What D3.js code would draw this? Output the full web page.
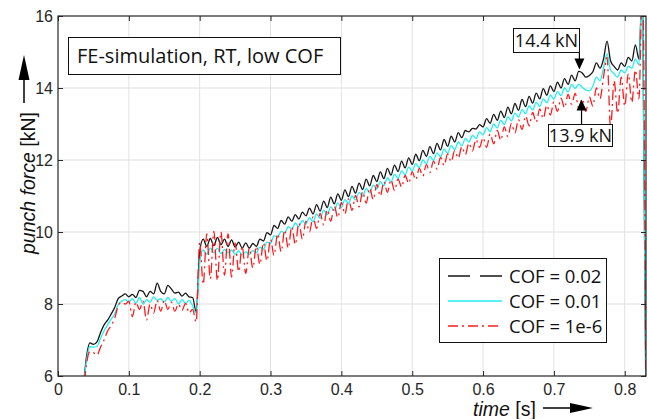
<!DOCTYPE html>
<html>
<head>
<meta charset="utf-8">
<script src="https://cdn.jsdelivr.net/npm/d3@7"></script>
<style>
    body { margin: 0; background: #fff; }
    .axis text { font-family: "Liberation Sans", Arial, sans-serif; font-size: 16px; fill: #262626; }
    .axis line { stroke: #262626; stroke-width: 1; }
    .grid line { stroke: #e1e1e1; stroke-width: 1; }
    .axis-label { font-family: "Liberation Sans", Arial, sans-serif; font-size: 19.5px; fill: #111; }
    .note-text { font-family: "Open Sans", sans-serif; font-size: 18px; fill: #111; }
    .title-text { font-family: "Open Sans", sans-serif; font-size: 20px; fill: #111; }
    .legend-text { font-family: "Open Sans", sans-serif; font-size: 18.5px; fill: #111; }
    .force-line { fill: none; stroke-width: 1.3; stroke-linejoin: round; }
</style>
</head>
<body>
<div id="chart"></div>
<script>

// ---- data ----
var timeSec = [
    0.035, 0.040, 0.045, 0.050, 0.055, 0.060, 0.065, 0.070, 0.075, 0.080,
    0.085, 0.090, 0.095, 0.100, 0.105, 0.110, 0.115, 0.120, 0.125, 0.130,
    0.135, 0.140, 0.145, 0.150, 0.155, 0.160, 0.165, 0.170, 0.175, 0.180,
    0.185, 0.190, 0.195, 0.200, 0.205, 0.210, 0.215, 0.220, 0.225, 0.230,
    0.235, 0.240, 0.245, 0.250, 0.255, 0.260, 0.265, 0.270, 0.275, 0.280,
    0.285, 0.290, 0.295, 0.300, 0.305, 0.310, 0.315, 0.320, 0.325, 0.330,
    0.335, 0.340, 0.345, 0.350, 0.355, 0.360, 0.365, 0.370, 0.375, 0.380,
    0.385, 0.390, 0.395, 0.400, 0.405, 0.410, 0.415, 0.420, 0.425, 0.430,
    0.435, 0.440, 0.445, 0.450, 0.455, 0.460, 0.465, 0.470, 0.475, 0.480,
    0.485, 0.490, 0.495, 0.500, 0.505, 0.510, 0.515, 0.520, 0.525, 0.530,
    0.535, 0.540, 0.545, 0.550, 0.555, 0.560, 0.565, 0.570, 0.575, 0.580,
    0.585, 0.590, 0.595, 0.600, 0.605, 0.610, 0.615, 0.620, 0.625, 0.630,
    0.635, 0.640, 0.645, 0.650, 0.655, 0.660, 0.665, 0.670, 0.675, 0.680,
    0.685, 0.690, 0.695, 0.700, 0.705, 0.710, 0.715, 0.720, 0.725, 0.730,
    0.735, 0.740, 0.745, 0.750, 0.755, 0.760, 0.765, 0.770, 0.775, 0.780,
    0.785, 0.790, 0.795, 0.800, 0.805, 0.810, 0.815, 0.820, 0.825, 0.830
];

// punch force [kN], COF = 0.02
var forceCof002 = [
    5.5, 6.5, 6.92, 6.88, 6.95, 7.2, 7.42, 7.55, 7.72, 7.9,
    8.15, 8.22, 8.28, 8.2, 8.27, 8.18, 8.38, 8.35, 8.2, 8.35,
    8.28, 8.58, 8.35, 8.28, 8.52, 8.42, 8.3, 8.33, 8.22, 8.3,
    8.2, 8.18, 7.78, 9.45, 9.80, 9.60, 9.82, 9.62, 9.85, 9.65,
    9.80, 9.60, 9.78, 9.58, 9.72, 9.55, 9.70, 9.55, 9.68, 9.60,
    9.80, 9.75, 9.98, 9.92, 10.18, 10.10, 10.32, 10.22, 10.42, 10.30,
    10.48, 10.36, 10.55, 10.45, 10.66, 10.50, 10.76, 10.58, 10.86, 10.68,
    10.97, 10.78, 11.06, 10.88, 11.17, 10.98, 11.27, 11.08, 11.36, 11.18,
    11.47, 11.28, 11.57, 11.40, 11.67, 11.48, 11.77, 11.58, 11.86, 11.68,
    11.97, 11.78, 12.06, 11.88, 12.16, 11.98, 12.27, 12.10, 12.37, 12.18,
    12.46, 12.28, 12.57, 12.38, 12.66, 12.50, 12.76, 12.62, 12.82, 12.78,
    12.88, 12.86, 12.98, 12.92, 13.15, 13.02, 13.27, 13.10, 13.36, 13.18,
    13.47, 13.28, 13.57, 13.38, 13.68, 13.48, 13.77, 13.58, 13.86, 13.70,
    13.98, 13.80, 14.06, 13.90, 14.16, 14.00, 14.26, 14.10, 14.36, 14.20,
    14.46, 14.42, 14.30, 14.35, 14.45, 14.70, 14.55, 14.80, 15.30, 14.75,
    14.60, 14.50, 14.70, 14.60, 14.85, 14.75, 15.20, 14.80, 17.0, 5.0
];

// punch force [kN], COF = 0.01
var forceCof001 = [
    5.5, 6.4, 6.82, 6.8, 6.82, 7.05, 7.25, 7.42, 7.58, 7.72,
    7.98, 8.08, 8.12, 8.05, 8.15, 8.02, 8.18, 8.0, 8.12, 8.05,
    8.2, 8.1, 8.15, 8.05, 8.18, 8.08, 8.15, 8.0, 8.12, 8.02,
    8.1, 7.95, 7.75, 9.15, 9.50, 9.38, 9.55, 9.42, 9.55, 9.40,
    9.52, 9.42, 9.50, 9.38, 9.48, 9.36, 9.45, 9.38, 9.48, 9.42,
    9.58, 9.52, 9.72, 9.68, 9.90, 9.85, 10.02, 9.98, 10.15, 10.08,
    10.25, 10.15, 10.32, 10.22, 10.40, 10.29, 10.50, 10.38, 10.61, 10.48,
    10.70, 10.59, 10.81, 10.68, 10.90, 10.79, 11.00, 10.89, 11.10, 10.99,
    11.21, 11.09, 11.30, 11.19, 11.40, 11.29, 11.50, 11.39, 11.60, 11.49,
    11.70, 11.59, 11.80, 11.69, 11.90, 11.79, 12.00, 11.89, 12.10, 11.99,
    12.20, 12.09, 12.30, 12.19, 12.40, 12.29, 12.50, 12.39, 12.60, 12.50,
    12.68, 12.60, 12.78, 12.70, 12.90, 12.79, 13.00, 12.89, 13.10, 12.99,
    13.20, 13.09, 13.30, 13.19, 13.40, 13.29, 13.50, 13.39, 13.60, 13.49,
    13.70, 13.59, 13.80, 13.69, 13.90, 13.79, 14.00, 13.89, 14.10, 13.99,
    14.10, 14.02, 13.95, 13.92, 14.05, 14.30, 14.20, 14.55, 14.95, 14.50,
    14.40, 14.30, 14.50, 14.42, 14.60, 14.55, 14.80, 14.65, 17.0, 5.0
];

// punch force [kN], COF = 1e-6
var forceCof1e6 = [
    5.3, 6.3, 6.68, 6.65, 6.58, 6.8, 7.0, 7.25, 7.4, 7.6,
    7.95, 8.05, 8.0, 8.08, 7.65, 8.05, 7.85, 8.08, 7.55, 8.0,
    7.75, 8.1, 7.8, 8.1, 7.85, 8.05, 7.8, 8.0, 7.82, 8.02,
    7.75, 7.85, 7.5, 9.70, 8.55, 9.95, 8.70, 10.02, 8.65, 10.00,
    8.80, 9.95, 8.75, 9.70, 8.90, 9.60, 8.85, 9.55, 9.00, 9.60,
    9.10, 9.70, 9.20, 9.80, 9.35, 9.95, 9.45, 10.05, 9.55, 10.15,
    9.65, 10.25, 9.80, 10.30, 10.00, 10.42, 10.10, 10.52, 10.20, 10.62,
    10.30, 10.72, 10.40, 10.82, 10.50, 10.92, 10.60, 11.02, 10.70, 11.12,
    10.80, 11.22, 10.90, 11.32, 11.00, 11.40, 11.10, 11.45, 11.15, 11.47,
    11.25, 11.57, 11.35, 11.67, 11.45, 11.77, 11.55, 11.87, 11.65, 11.97,
    11.75, 12.07, 11.85, 12.17, 11.95, 12.27, 12.05, 12.37, 12.15, 12.47,
    12.25, 12.57, 12.35, 12.62, 12.35, 12.72, 12.45, 12.82, 12.55, 12.92,
    12.65, 13.02, 12.75, 13.12, 12.85, 13.22, 12.95, 13.32, 13.05, 13.42,
    13.15, 13.52, 13.25, 13.62, 13.35, 13.72, 13.45, 13.82, 13.55, 13.85,
    13.45, 13.70, 13.35, 13.75, 13.50, 14.00, 13.70, 14.30, 14.85, 12.90,
    14.20, 13.30, 14.30, 13.50, 14.40, 13.60, 14.50, 13.70, 17.0, 5.0
];

var seriesNames = ["COF = 0.02", "COF = 0.01", "COF = 1e-6"];
var xTicks = [0, 0.1, 0.2, 0.3, 0.4, 0.5, 0.6, 0.7, 0.8];
var xTickLabels = ["0", "0.1", "0.2", "0.3", "0.4", "0.5", "0.6", "0.7", "0.8"];
var yTicks = [6, 8, 10, 12, 14, 16];
var yTickLabels = ["6", "8", "10", "12", "14", "16"];
var xDomain = [0, 0.83];
var yDomain = [6, 16];

// annotated values: [time, force, label]
var notePeak = [0.736, 14.4, "14.4 kN"];
var noteLow = [0.739, 13.9, "13.9 kN"];
var titleText = "FE-simulation, RT, low COF";


/*
 * PunchForceChart - draws the force/time curves
 */
PunchForceChart = function(_parentElement) {
    this.parentElement = _parentElement;
    this.initVis();
};

PunchForceChart.prototype.initVis = function() {
    var vis = this;

    vis.margin = { top: 16, right: 3, bottom: 43, left: 58 };
    vis.width = 649 - vis.margin.left - vis.margin.right;
    vis.height = 419 - vis.margin.top - vis.margin.bottom;

    vis.root = d3.select("#" + vis.parentElement).append("svg")
        .attr("width", 649)
        .attr("height", 419);

    vis.svg = vis.root.append("g")
        .attr("transform", "translate(" + vis.margin.left + "," + vis.margin.top + ")");

    vis.x = d3.scaleLinear().domain(xDomain).range([0, vis.width]);
    vis.y = d3.scaleLinear().domain(yDomain).range([vis.height, 0]);

    vis.svg.append("clipPath").attr("id", "plot-clip")
        .append("rect")
        .attr("width", vis.width)
        .attr("height", vis.height);

    // grid
    vis.svg.append("g")
        .attr("class", "grid")
        .selectAll("line.gx")
        .data(xTicks.slice(1))
        .enter().append("line")
        .attr("x1", function(d) { return vis.x(d); })
        .attr("x2", function(d) { return vis.x(d); })
        .attr("y1", 0)
        .attr("y2", vis.height);

    vis.svg.select(".grid")
        .selectAll("line.gy")
        .data(yTicks.slice(1, -1))
        .enter().append("line")
        .attr("x1", 0)
        .attr("x2", vis.width)
        .attr("y1", function(d) { return vis.y(d); })
        .attr("y2", function(d) { return vis.y(d); });

    vis.wrangleData();
};

PunchForceChart.prototype.wrangleData = function() {
    var vis = this;

    var forces = [forceCof002, forceCof001, forceCof1e6];
    var colors = ["#161616", "#22eef2", "#ff1a1a"];
    var plotDash = [null, null, "10,4,2,4"];
    var legendDash = ["22,10", null, "10,4,2,4"];

    vis.displayData = seriesNames.map(function(name, k) {
        return {
            name: name,
            color: colors[k],
            dash: plotDash[k],
            legendDash: legendDash[k],
            points: timeSec.map(function(t, i) { return { t: t, f: forces[k][i] }; })
        };
    });

    vis.updateVis();
};

PunchForceChart.prototype.updateVis = function() {
    var vis = this;

    vis.line = d3.line()
        .curve(d3.curveMonotoneX)
        .x(function(d) { return vis.x(d.t); })
        .y(function(d) { return vis.y(d.f); });

    vis.svg.append("g")
        .attr("clip-path", "url(#plot-clip)")
        .selectAll("path")
        .data(vis.displayData)
        .enter().append("path")
        .attr("class", "force-line")
        .attr("stroke", function(d) { return d.color; })
        .attr("stroke-dasharray", function(d) { return d.dash; })
        .attr("d", function(d) { return vis.line(d.points); });

    // axes: inward ticks on all four sides
    var bottom = d3.axisBottom(vis.x).tickValues(xTicks).tickSize(-5).tickPadding(8)
        .tickFormat(function(d, i) { return xTickLabels[i]; });
    var top = d3.axisTop(vis.x).tickValues(xTicks).tickSize(-5).tickFormat("");
    var left = d3.axisLeft(vis.y).tickValues(yTicks).tickSize(-5).tickPadding(5)
        .tickFormat(function(d, i) { return yTickLabels[i]; });
    var right = d3.axisRight(vis.y).tickValues(yTicks).tickSize(-5).tickFormat("");

    vis.svg.append("g").attr("class", "axis")
        .attr("transform", "translate(0," + vis.height + ")").call(bottom);
    vis.svg.append("g").attr("class", "axis").call(top);
    vis.svg.append("g").attr("class", "axis").call(left);
    vis.svg.append("g").attr("class", "axis")
        .attr("transform", "translate(" + vis.width + ",0)").call(right);
    vis.svg.selectAll(".axis .domain").remove();

    vis.svg.append("rect")
        .attr("width", vis.width)
        .attr("height", vis.height)
        .attr("fill", "none")
        .attr("stroke", "#262626")
        .attr("stroke-width", 1.2);

    // axis labels with arrows
    var xl = vis.root.append("text")
        .attr("class", "axis-label")
        .attr("x", 473)
        .attr("y", 415.5);
    xl.append("tspan").attr("font-style", "italic").text("time");
    xl.append("tspan").text(" [s]");
    vis.root.append("line")
        .attr("x1", 543).attr("x2", 572).attr("y1", 408).attr("y2", 408)
        .attr("stroke", "#000").attr("stroke-width", 1.5);
    vis.root.append("path")
        .attr("d", "M570,403 L593,408 L570,413 Z")
        .attr("fill", "#000");

    var yl = vis.root.append("text")
        .attr("class", "axis-label")
        .attr("text-anchor", "middle")
        .attr("transform", "translate(35,183) rotate(-90)");
    yl.append("tspan").attr("font-style", "italic").text("punch force");
    yl.append("tspan").text(" [kN]");
    vis.root.append("line")
        .attr("x1", 24).attr("x2", 24).attr("y1", 103).attr("y2", 78)
        .attr("stroke", "#000").attr("stroke-width", 1.5);
    vis.root.append("path")
        .attr("d", "M18.5,80 L24,55 L29.5,80 Z")
        .attr("fill", "#000");

    // title box
    var g = vis.root.append("g");
    g.append("rect")
        .attr("x", 68.5).attr("y", 37.5).attr("width", 272).attr("height", 37)
        .attr("fill", "#fff").attr("stroke", "#111").attr("stroke-width", 1);
    g.append("text")
        .attr("class", "title-text")
        .attr("x", 77).attr("y", 63)
        .text(titleText);

    // annotations
    var px = vis.margin.left + vis.x(notePeak[0]);
    var py = vis.margin.top + vis.y(notePeak[1]) - 4;
    vis.root.append("line")
        .attr("x1", px).attr("x2", px).attr("y1", 52).attr("y2", py - 9)
        .attr("stroke", "#000").attr("stroke-width", 1.2);
    vis.root.append("path")
        .attr("d", "M" + (px - 5) + "," + (py - 11) + " L" + px + "," + py + " L" + (px + 5) + "," + (py - 11) + " Z")
        .attr("fill", "#000");
    vis.root.append("rect")
        .attr("x", 513.5).attr("y", 28.5).attr("width", 66).attr("height", 24)
        .attr("fill", "#fff").attr("stroke", "#111");
    vis.root.append("text")
        .attr("class", "note-text")
        .attr("x", 546.5).attr("y", 47)
        .attr("text-anchor", "middle")
        .text(notePeak[2]);

    var lx = vis.margin.left + vis.x(noteLow[0]);
    var ly = vis.margin.top + vis.y(noteLow[1]) + 8;
    vis.root.append("line")
        .attr("x1", lx).attr("x2", lx).attr("y1", 124).attr("y2", ly + 9)
        .attr("stroke", "#000").attr("stroke-width", 1.2);
    vis.root.append("path")
        .attr("d", "M" + (lx - 5) + "," + (ly + 11) + " L" + lx + "," + ly + " L" + (lx + 5) + "," + (ly + 11) + " Z")
        .attr("fill", "#000");
    vis.root.append("rect")
        .attr("x", 548.5).attr("y", 124.5).attr("width", 64).attr("height", 22)
        .attr("fill", "#fff").attr("stroke", "#111");
    vis.root.append("text")
        .attr("class", "note-text")
        .attr("x", 580.5).attr("y", 142)
        .attr("text-anchor", "middle")
        .text(noteLow[2]);

    // legend
    var legend = vis.root.append("g").attr("transform", "translate(439,258)");
    legend.append("rect")
        .attr("x", 0.5).attr("y", 0.5).attr("width", 167).attr("height", 84)
        .attr("fill", "#fff").attr("stroke", "#111");
    var rows = legend.selectAll("g.row")
        .data(vis.displayData)
        .enter().append("g")
        .attr("class", "row")
        .attr("transform", function(d, i) { return "translate(0," + (18 + i * 25) + ")"; });
    rows.append("line")
        .attr("x1", 9).attr("x2", 63)
        .attr("stroke", function(d) { return d.color; })
        .attr("stroke-width", 1.4)
        .attr("stroke-dasharray", function(d) { return d.legendDash; });
    rows.append("text")
        .attr("class", "legend-text")
        .attr("x", 70).attr("y", 6.5)
        .text(function(d) { return d.name; });
};

new PunchForceChart("chart");
</script>
</body>
</html>
